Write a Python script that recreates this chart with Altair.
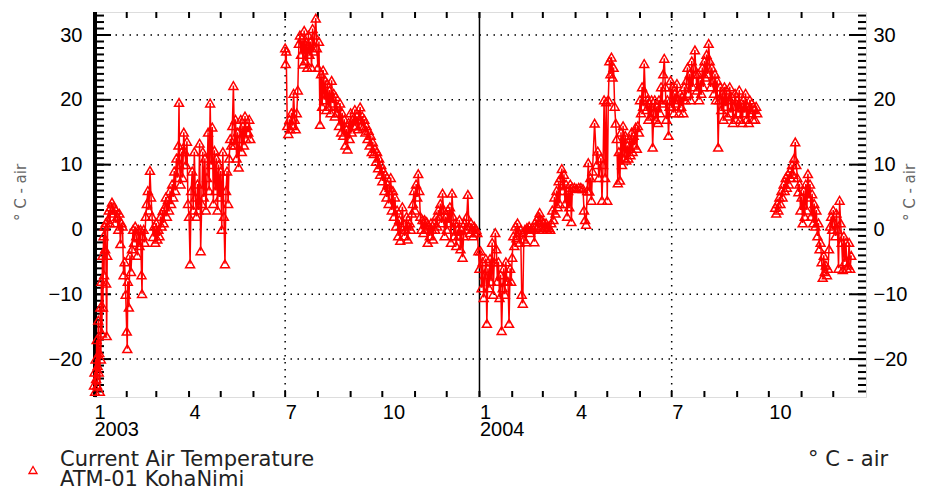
import altair as alt
import pandas as pd

FONT = "Liberation Sans"
TEXT_FONT = "DejaVu Sans"
RED = "#ff0000"

# (day offset from 2003-01-01, temperature in deg C)
spring_2003 = [(0,-24),(0.5,-22),(1,-25),(1.5,-20),(2,-23),(2.5,-17),(3,-24),(3.5,-21),(4,-14),(4.5,-22),(5,-19),(5.5,-25),(6,-12),(6.5,-20),(7,-8),(7.5,-16),(8,-4),(8.5,-12),(9,-1),(9.5,-7),(10,0.5),(10.5,-3),(11,1),(11.5,-8.3),(12,-16.4),(12.5,-4),(13,1.5),(14,3),(15,1),(16,3.5),(17,4.2),(18,2.5),(19,3.5),(20,1),(21,3),(22,2),(23,0),(24,2.5),(25,-2.2),(26,1),(27,0.5),(28,-7),(29,-5),(30,-10),(31,-15.7),(31.5,-18.4),(32,-8),(33,-12),(34,-4),(35,-6.5),(36,-3),(37,0),(38,-2),(39,0.5),(40,-1),(41,-4),(42,0),(43,-2.5),(44,0),(45,-7),(45.5,-9.9),(46,-1),(47,0),(48,-2),(49,2),(50,4),(51,6),(52,3),(53,9.1),(54,5),(55,2),(56,-1.1),(57,0.5),(58,-2),(59,1),(60,-1.5),(61,0),(62,-1),(63,2),(64,0.5),(65,2.9),(66,1),(67,3.5),(68,5),(69,2),(70,4.6),(71,3),(72,6),(73,4),(74,7),(75,5),(76,9),(77,6),(78,11),(79,8),(80,13),(80.5,19.6),(81,10),(82,7),(83,12),(84,8),(85,15),(86,12),(87,10),(88,13.6),(89,4),(90,2),(91,-5.3),(92,6),(93,9),(94,3),(95,12),(96,5),(97,2),(98,7),(99,3),(100,13.3),(101,-3.3),(102,4),(103,12),(104,5),(105,11),(106,3),(107,8),(108,15),(109,6),(110,19.5),(111,10),(112,15.8),(113,4),(114,12.2),(115,6),(116,11),(117,3),(118,10),(119,5),(120,9),(121,0),(122,12),(123,2),(124,-5.3),(125,6),(126,9),(127,4),(128,11),(129,14),(130,13),(131,16),(132,22.2),(133,13),(134,17),(135,11),(136,15),(137,9.6),(138,14),(139,17),(140,12),(141,16),(142,13),(143,17.5),(144,14),(145,16),(146,15),(147,17),(148,14)]

summer_2003 = [(181,28),(181.5,25.6),(182,27.5),(183,16),(184,14.8),(185,17),(186,15.5),(187,18),(188,16),(189,21),(190,17),(191,15.5),(192,18),(193,21.5),(194,28.7),(195,30),(196,27),(197,29.5),(198,25.5),(199,30.7),(200,26),(201,29),(202,25),(203,30),(204,27),(205,29),(206,25),(207,31),(208,27.5),(209,30),(210,32.6),(211,28),(212,25),(213,29),(214,16.2),(215,24),(216,19),(217,24.6),(218,20),(219,23),(220,18.5),(221,22.5),(222,19),(223,21.5),(224,18),(225,23),(226,19.5),(227,21),(228,17.5),(229,20.5),(230,18),(231,19),(232,16),(233,19.5),(234,15),(235,18),(236,14.5),(237,17),(238,13),(239,15.5),(240,12.4),(241,16.5),(242,14),(243,18),(244,15),(245,17),(246,16),(247,18.5),(248,16),(249,17.5),(250,15.5),(251,17),(252,18.9),(253,16),(254,17.5),(255,15.8),(256,17),(257,15),(258,16),(259,14),(260,15.3),(261,13),(262,14.5),(263,12),(264,13.5),(265,11.7),(266,12.5),(267,10.5),(268,12),(269,9.5),(270,11),(271,8.5),(272,10),(273,7.5),(274,9),(275,6),(276,8.5),(277,5),(278,7),(279,4),(280,6.5),(281,8),(282,3),(283,6),(284,2),(285,5),(286,0.5),(287,3),(288,-1),(289,1.5),(290,-1.7),(291,0.5),(292,3.5),(293,1),(294,-1),(295,0),(296,2),(297,-1.5),(298,0.5),(299,1),(300,0),(301,2.5),(302,4),(303,6),(304,3),(305,7),(306,5),(307,8.6),(308,6),(309,2),(310,0),(311,1.5),(312,-0.5),(313,1.5),(314,0),(315,1.2),(316,-2),(317,0.5),(318,-1),(319,1),(320,0),(321,-1.5),(322,1),(323,0),(324,2),(325,0.5),(326,3),(327,2),(328,4),(329,1),(330,5.6),(331,3),(332,-1),(333,2),(334,0),(335,3),(336,1),(337,3.5),(338,-2),(339,5.6),(340,2),(341,-1),(342,1),(343,-2.5),(344,0),(345,-1),(346,1.5),(347,-3),(348,0),(349,-4.3),(350,-1),(351,1),(352,0),(353,2),(354,5.4),(355,0.5),(356,-0.5),(357,1),(358,0),(359,-1),(360,0.5),(361,-0.5),(362,0),(363,-0.5),(364,-3.3)]

year_2004 = [(365,-6),(366,-3.3),(367,-9),(368,-5),(369,-10.5),(370,-7),(371,-4.5),(372,-14.5),(373,-6),(374,-9),(375,-4.5),(376,-8),(377,-2),(378,-10),(379,-5),(380,-0.5),(381,-3),(382,-8),(383,-5),(384,-10.5),(385,-7),(386,-15.6),(387,-9),(388,-6),(389,-10),(390,-5),(391,-8),(392,-8),(393,-14.5),(394,-6),(395,-8),(396,-4.3),(397,-1),(398,-2.5),(399,0.5),(400,-1.3),(401,1),(402,-0.5),(403,-2),(404,0),(405,-10),(406,-11.4),(407,-1.5),(408,0),(409,-1.9),(410,0.3),(411,0),(412,0.5),(413,-0.5),(414,0),(415,0.3),(416,0),(417,-1.9),(418,0.5),(419,1.5),(420,0.3),(421,2),(422,2.6),(423,0.5),(424,1.5),(425,0),(426,1),(427,0.3),(428,1),(429,0),(430,0.5),(431,0.3),(432,0),(433,1),(434,3),(435,1.5),(436,5),(437,2.5),(438,6),(439,3.5),(440,7.5),(441,4),(442,8),(443,9.4),(444,6),(445,8.5),(446,4),(447,7),(448,2),(449,6),(450,3.5),(451,7),(452,1.2),(453,6.5),(455,6.5),(457,6.3),(459,6.5),(461,6.5),(463,6.3),(464,3),(465,1.5),(466,0.8),(467,6),(468,10.3),(469,5.9),(470,8),(471,4.5),(472,9),(474,16.4),(476,10),(477,12.1),(478,8),(480,11),(481,4.5),(482,10),(483,20),(484,8),(485,19.7),(486,4.5),(487,20),(488,26),(489,24),(490,26.6),(491,23.5),(492,25),(493,19),(494,16.4),(495,14),(496,7.2),(497,12),(498,7.6),(499,15),(500,10),(501,16),(502,11),(503,14.5),(504,10.7),(505,13),(506,11),(507,14),(508,11.5),(509,15),(510,12),(511,14.5),(512,13),(513,15.8),(514,12.5),(515,16),(516,15),(517,20),(518,18),(519,22),(520,19),(521,25.6),(522,21),(523,18.5),(524,20),(525,17),(526,19.5),(527,17.5),(528,20),(529,12.7),(530,18),(531,20),(532,17),(533,19),(534,16.5),(535,20),(536,18),(537,22),(538,19.5),(539,24),(540,26.4),(541,22),(542,17),(543,20),(544,14.5),(545,19),(546,23),(547,19),(548,22),(549,18),(550,21),(551,19.5),(552,22.5),(553,20),(554,18),(555,21),(556,19),(557,20.5),(558,18),(559,22),(560,20),(561,23),(562,25),(563,21),(564,24),(565,20),(566,26),(567,22),(568,25),(569,27.7),(570,24),(571,21.5),(572,24),(573,20),(574,23),(575,21),(576,25),(577,22),(578,26),(579,23.5),(580,27),(581,24),(582,28.7),(583,26),(584,22),(585,25),(586,23),(587,21),(588,24),(589,20),(590,23),(591,12.7),(592,20),(593,22),(594,18.5),(595,21),(596,17),(597,22),(598,19),(599,21.5),(600,17.5),(601,20),(602,22),(603,18),(604,20.5),(605,16.5),(606,19),(607,21),(608,17),(609,20),(610,18),(611,21.5),(612,17),(613,19.5),(614,16.5),(615,20),(616,18),(617,21),(618,17),(619,19),(620,16.5),(621,20),(622,18),(623,19.5),(624,17),(625,18.5),(626,17),(627,19),(628,18)]

autumn_2004 = [(645,3.4),(646,2.5),(647,4),(648,3),(649,5),(650,4),(651,6),(652,5),(653,7),(654,6),(655,8),(656,6.5),(657,8.5),(658,7),(659,9),(660,8),(661,10),(662,8.5),(663,11),(664,13.5),(665,10),(666,8),(667,5.8),(668,7),(669,3),(670,5),(671,1),(672,6),(673,2),(674,7),(675,3),(676,8.6),(677,5),(678,7),(679,2),(680,5.5),(681,1),(682,4),(683,0.5),(684,3),(685,-1),(686,1),(687,-3),(688,-2),(689,-5),(690,-7.4),(691,-4),(692,-6.5),(693,-5.5),(694,-7),(695,-6),(696,-3),(697,0.5),(698,2),(699,0),(700,3),(701,1),(702,-1),(703,2.5),(704,0),(705,-6),(706,4.5),(707,1),(708,-2),(709,-6.2),(710,-1),(711,-5),(712,-2),(713,-6),(714,-5.5),(715,-2),(716,-6),(717,-4)]

grid_temps = [-20, -10, 0, 10, 20, 30]
minor_temps = list(range(-25, 34))
dotted_dates = ["2003-07-01T00:00:00", "2004-07-01T00:00:00"]
year_dates = ["2004-01-01T00:00:00"]
month_dates = [f"{2003 + i // 12}-{i % 12 + 1:02d}-01T00:00:00" for i in range(24)]
y_lo, y_hi = -25.85, 33.55
legend_lines = ["Current Air Temperature", "ATM-01 KohaNimi"]
unit_text = "° C - air"

W, H = 772, 385
base = pd.Timestamp("2003-01-01")


def frame(pairs, seg):
    return pd.DataFrame({
        "time": [(base + pd.Timedelta(days=d)).strftime("%Y-%m-%dT%H:%M:%S") for d, _ in pairs],
        "temp": [t for _, t in pairs],
        "seg": seg,
    })


data = pd.concat([
    frame(spring_2003, 1),
    frame(summer_2003, 2),
    frame(year_2004, 2),
    frame(autumn_2004, 3),
], ignore_index=True)

month_values = [alt.DateTime(year=2003 + i // 12, month=i % 12 + 1, date=1) for i in range(24)]
xscale = alt.Scale(domain=[alt.DateTime(year=2003, month=1, date=1),
                           alt.DateTime(year=2005, month=1, date=1)])
yscale = alt.Scale(domain=[y_lo, y_hi], nice=False, zero=False)

x_bottom = alt.Axis(
    orient="bottom", values=month_values, ticks=False, tickSize=0, domain=False, grid=False,
    labelExpr="month(datum.value) % 3 == 0 ? (month(datum.value) == 0 ? ['1', timeFormat(datum.value, '%Y')] : '' + (month(datum.value) + 1)) : ''",
    labelAlign="left", labelPadding=5, labelFont=FONT, labelFontSize=20, labelColor="black",
    labelLineHeight=17, labelOverlap=False, labelBound=False, labelFlush=False, title=None)

label_style = dict(labelFont=FONT, labelFontSize=20, labelColor="black", format="d",
                   ticks=False, tickSize=0, domain=False, grid=False)
title_style = dict(titleFont=TEXT_FONT, titleFontSize=15, titleFontWeight="normal", titleColor="#666666",
                   titleAngle=270, titleBaseline="middle", titleAlign="center", titleY=180)

y_left = alt.Axis(orient="left", values=grid_temps, labelPadding=12,
                  title=unit_text, titleX=-74, **label_style, **title_style)
y_right = alt.Axis(orient="right", values=grid_temps, labelPadding=7,
                   title=unit_text, titleX=43, **label_style, **title_style)


def ytick_layer(values, x0, x1):
    return alt.Chart(pd.DataFrame({"temp": values})).mark_rule(
        color="black", strokeWidth=2, orient="horizontal"
    ).encode(y=alt.Y("temp:Q", scale=yscale, axis=None), x=alt.value(x0), x2=alt.value(x1))


def xtick_layer(y0, y1):
    return alt.Chart(pd.DataFrame({"time": month_dates})).mark_rule(
        color="black", strokeWidth=2, orient="vertical"
    ).encode(x=alt.X("time:T", scale=xscale, axis=None), y=alt.value(y0), y2=alt.value(y1))


hgrid = alt.Chart(pd.DataFrame({"temp": grid_temps})).mark_rule(
    color="black", strokeWidth=1.5, strokeDash=[1.5, 5.5]
).encode(y=alt.Y("temp:Q", scale=yscale, axis=y_left))

vdotted = alt.Chart(pd.DataFrame({"time": dotted_dates})).mark_rule(
    color="black", strokeWidth=1.5, strokeDash=[1.5, 5.5]
).encode(x=alt.X("time:T", scale=xscale, axis=x_bottom))

vsolid = alt.Chart(pd.DataFrame({"time": year_dates})).mark_rule(
    color="black", strokeWidth=1.5
).encode(x=alt.X("time:T", scale=xscale, axis=None))

# thicker left frame edge, as in the picture
left_edge = alt.Chart(pd.DataFrame({"k": [0]})).mark_rule(color="black", strokeWidth=4).encode(
    x=alt.value(1), y=alt.value(0), y2=alt.value(H)
)

line = alt.Chart(data).mark_line(color=RED, strokeWidth=1.5).encode(
    x=alt.X("time:T", scale=xscale, axis=None),
    y=alt.Y("temp:Q", scale=yscale, axis=None),
    detail="seg:N",
)

points = alt.Chart(data).mark_point(
    shape="triangle-up", filled=False, color=RED, size=80, strokeWidth=1.5, opacity=1
).encode(
    x=alt.X("time:T", scale=xscale, axis=None),
    y=alt.Y("temp:Q", scale=yscale, axis=y_right),
)

one = pd.DataFrame({"k": [0]})
legend_symbol = alt.Chart(one).mark_point(
    shape="triangle-up", filled=False, color=RED, size=65, strokeWidth=1.3, opacity=1
).encode(x=alt.value(-61), y=alt.value(458))

legend_text = alt.Chart(one).mark_text(
    align="left", baseline="alphabetic", font=TEXT_FONT, fontSize=21, lineHeight=20, color="#222222"
).encode(x=alt.value(-34), y=alt.value(454), text=alt.value(legend_lines))

unit_label = alt.Chart(one).mark_text(
    align="left", baseline="alphabetic", font=TEXT_FONT, fontSize=21, color="#222222"
).encode(x=alt.value(714), y=alt.value(454), text=alt.value(unit_text))

chart = alt.layer(
    hgrid, vdotted, vsolid,
    ytick_layer(minor_temps, 0, 10), ytick_layer(grid_temps, 0, 17),
    ytick_layer(minor_temps, W - 8, W), ytick_layer(grid_temps, W - 17, W),
    xtick_layer(0, 6), xtick_layer(H - 6, H), left_edge,
    line, points, legend_symbol, legend_text, unit_label
).resolve_axis(x="independent", y="independent").properties(
    width=W, height=H,
    autosize=alt.AutoSizeParams(type="none"),
    padding={"left": 86, "top": 4, "right": 51, "bottom": 90},
).configure_view(stroke="black", strokeWidth=2).configure(background="white")

chart.save("out.html", embed_options={"renderer": "svg", "actions": False})
